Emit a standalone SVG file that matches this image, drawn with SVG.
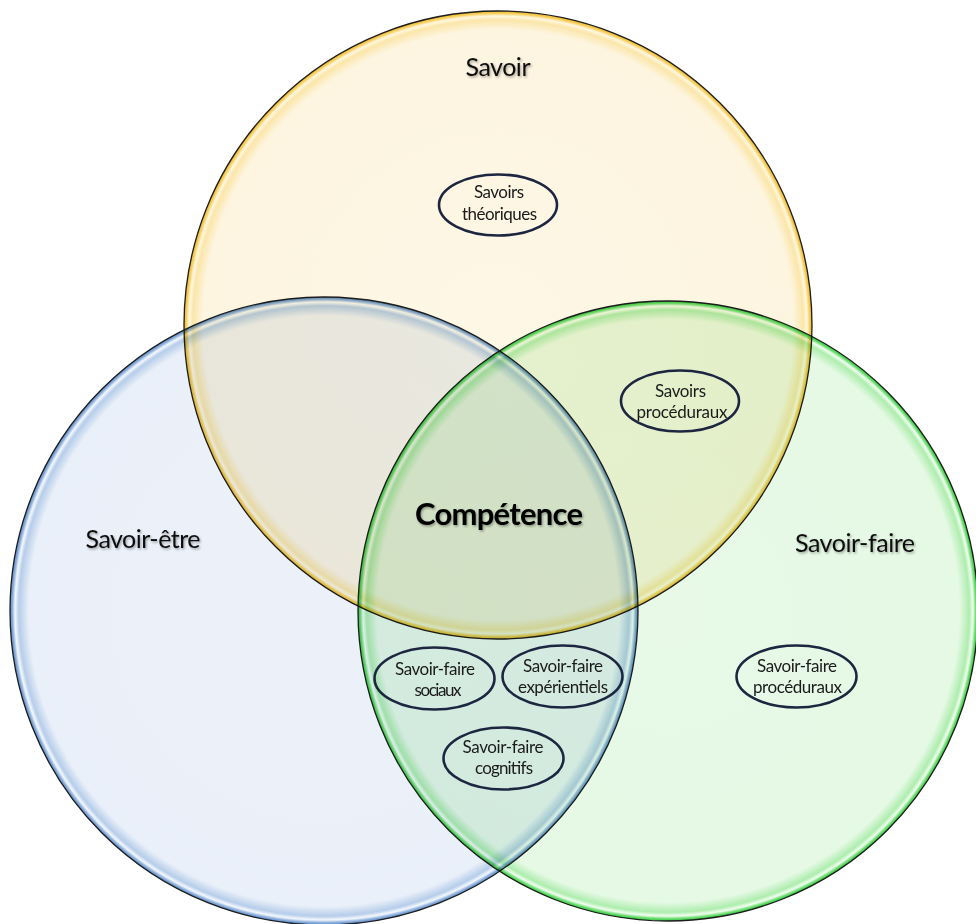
<svg xmlns="http://www.w3.org/2000/svg" width="976" height="924" viewBox="0 0 976 924">
<defs>
<radialGradient id="gY">
<stop offset="0" stop-color="#FEF7E6"/>
<stop offset="0.94" stop-color="#FDF5E0"/>
<stop offset="0.972" stop-color="#FBE6AA"/>
<stop offset="0.984" stop-color="#FFF7E0"/>
<stop offset="0.993" stop-color="#F6CE58"/>
<stop offset="1" stop-color="#EBB22A"/>
</radialGradient>
<radialGradient id="gB">
<stop offset="0" stop-color="#ECF1F9"/>
<stop offset="0.94" stop-color="#EAF0F9"/>
<stop offset="0.972" stop-color="#B6CDEA"/>
<stop offset="0.984" stop-color="#F4F8FD"/>
<stop offset="0.993" stop-color="#86ABDA"/>
<stop offset="1" stop-color="#5A88C4"/>
</radialGradient>
<radialGradient id="gG">
<stop offset="0" stop-color="#E8F9E8"/>
<stop offset="0.94" stop-color="#E5F9E4"/>
<stop offset="0.972" stop-color="#AEEDAE"/>
<stop offset="0.984" stop-color="#F0FDF0"/>
<stop offset="0.993" stop-color="#66DB6A"/>
<stop offset="1" stop-color="#2EC43A"/>
</radialGradient>
<filter id="sh" x="-10%" y="-30%" width="120%" height="160%">
<feDropShadow dx="1.2" dy="1.5" stdDeviation="1.2" flood-color="#000" flood-opacity="0.35"/>
</filter>
</defs>
<style>
.fill{mix-blend-mode:multiply}
.ol{fill:none;stroke:#1c1c1c;stroke-width:1.3}
.title{font-family:"Lato","Liberation Sans",sans-serif;font-size:25px;fill:#111;text-anchor:middle;filter:url(#sh)}
.big{font-family:"Lato","Liberation Sans",sans-serif;font-size:31px;font-weight:bold;fill:#000;text-anchor:middle;filter:url(#sh)}
.lab{font-family:"Lato","Liberation Sans",sans-serif;font-size:17px;fill:#1a1a1a;text-anchor:middle}
.el{fill:none;stroke:#1d2640;stroke-width:2.6}
</style>
<rect width="976" height="924" fill="#fff"/>
<g id="savoir">
<circle class="fill" cx="498" cy="325" r="314" fill="url(#gY)"/>
<circle class="ol" cx="498" cy="325" r="314"/>
</g>
<g id="savoir-etre">
<circle class="fill" cx="324" cy="611" r="314" fill="url(#gB)"/>
<circle class="ol" cx="324" cy="611" r="314"/>
</g>
<g id="savoir-faire">
<circle class="fill" cx="668" cy="611" r="310" fill="url(#gG)"/>
<circle class="ol" cx="668" cy="611" r="310"/>
</g>
<text class="title" x="498" y="76" textLength="65">Savoir</text>
<text class="title" x="143" y="548" textLength="115">Savoir-être</text>
<text class="title" x="855" y="552" textLength="120">Savoir-faire</text>
<text class="big" x="499" y="525" textLength="168">Compétence</text>
<g id="savoirs-theoriques">
<ellipse class="el" cx="498" cy="205" rx="59" ry="30.5"/>
<text class="lab" x="499" y="198" textLength="50">Savoirs</text>
<text class="lab" x="499.5" y="220" textLength="75">théoriques</text>
</g>
<g id="savoirs-proceduraux">
<ellipse class="el" cx="680" cy="401" rx="59" ry="30.5"/>
<text class="lab" x="680.5" y="397" textLength="51">Savoirs</text>
<text class="lab" x="682" y="418" textLength="91">procéduraux</text>
</g>
<g id="sf-sociaux">
<ellipse class="el" cx="434.5" cy="678.5" rx="60" ry="31"/>
<text class="lab" x="435" y="675" textLength="80">Savoir-faire</text>
<text class="lab" x="438" y="696" textLength="47">sociaux</text>
</g>
<g id="sf-experientiels">
<ellipse class="el" cx="562.5" cy="676.5" rx="60" ry="31"/>
<text class="lab" x="563" y="672" textLength="80">Savoir-faire</text>
<text class="lab" x="563" y="693" textLength="90">expérientiels</text>
</g>
<g id="sf-cognitifs">
<ellipse class="el" cx="503.5" cy="758.5" rx="60" ry="31"/>
<text class="lab" x="503" y="753" textLength="81">Savoir-faire</text>
<text class="lab" x="504" y="774" textLength="58">cognitifs</text>
</g>
<g id="sf-proceduraux">
<ellipse class="el" cx="796.5" cy="676.5" rx="60" ry="31"/>
<text class="lab" x="797" y="672" textLength="80">Savoir-faire</text>
<text class="lab" x="797.5" y="693" textLength="89">procéduraux</text>
</g>
</svg>
